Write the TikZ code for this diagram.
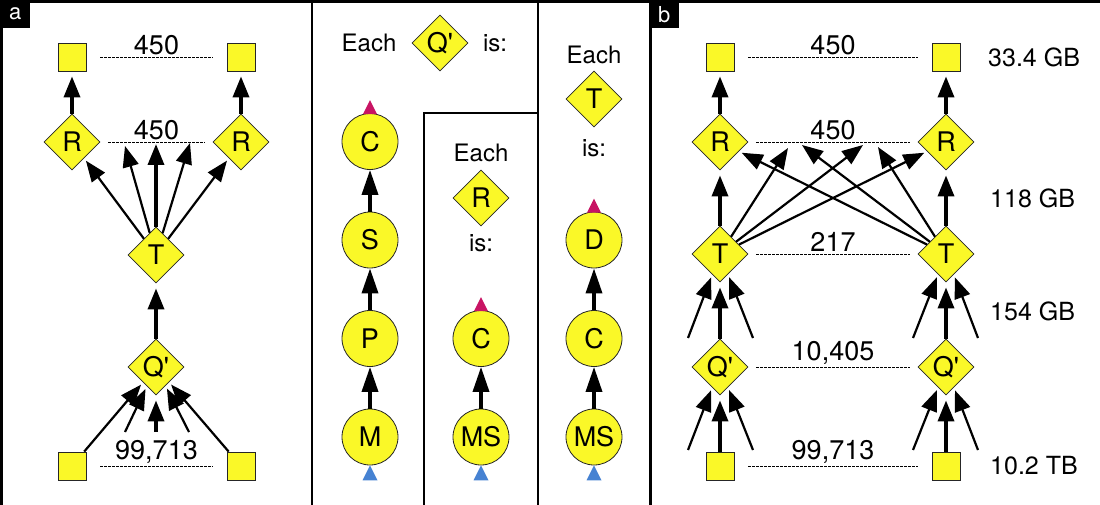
\documentclass[tikz,border=0pt]{standalone}
\usepackage{fontspec}
\setmainfont{TeX Gyre Heros}
\usetikzlibrary{shapes.geometric, arrows.meta}
\usetikzlibrary{positioning, shapes}
\definecolor{cellyellow}{RGB}{250,248,40}
\definecolor{tipmagenta}{RGB}{200,20,100}
\definecolor{tipblue}{RGB}{70,130,210}
\newcommand{\qp}{Q\textquotesingle}
\tikzstyle{sq} = [rectangle, minimum size=28pt, inner sep=0pt, fill=cellyellow, draw=black!85, line width=0.8pt]
\tikzstyle{dia} = [diamond, minimum width=56pt, minimum height=56pt, inner sep=0pt, fill=cellyellow, draw=black!85, line width=0.8pt, font=\fontsize{27}{30}\selectfont]
\tikzstyle{ball} = [circle, minimum size=56pt, inner sep=0pt, fill=cellyellow, draw=black!85, line width=0.8pt, font=\fontsize{27}{30}\selectfont]
\tikzstyle{txt} = [font=\fontsize{24}{28}\selectfont, inner sep=0pt]
\tikzstyle{sizelabel} = [font=\fontsize{25}{28}\selectfont, inner sep=0pt, anchor=west]
\tikzstyle{tally} = [font=\fontsize{27}{30}\selectfont, above, inner sep=2pt]
\tikzstyle{rowline} = [line width=0.7pt, dash pattern=on 3pt off 1pt]
\tikzstyle{feed} = [line width=2.2pt, -{Triangle[length=21pt,width=16pt]}, shorten >=3pt]
\tikzstyle{bigfeed} = [line width=3.5pt, -{Triangle[length=21pt,width=16pt]}, shorten >=5pt]
\tikzstyle{rise} = [line width=3.5pt, -{Triangle[length=25pt,width=16pt]}]
\tikzstyle{paneltag} = [fill=black, text=white, anchor=north west, minimum width=30pt, minimum height=28pt, inner sep=0pt, font=\fontsize{22}{24}\selectfont]

\begin{document}
\begin{tikzpicture}[x=1pt, y=-1pt, node distance=98.5pt]
  \useasboundingbox (0,0) rectangle (1100,505);
  % frame
  \draw [line width=3pt] (0,1.5) -- (1100,1.5);
  \draw [line width=3pt] (1.5,0) -- (1.5,505);
  \draw [line width=2pt] (312,0) -- (312,505);
  \draw [line width=1.5pt] (538,0) -- (538,505);
  \draw [line width=1.5pt] (424,505) -- (424,113) -- (538,113);
  \draw [line width=3pt] (650,0) -- (650,505);
  \node (taga) [paneltag] at (0,0) {a};
  \node (tagb) [paneltag] at (649,0) {b};

  % panel a
  \node (qa) [dia] at (156,367) {\qp};
  \node (ta) [dia, above of=qa, node distance=112pt] {T};
  \node (ra1) [dia, above of=ta, node distance=113pt, xshift=-84pt] {R};
  \node (ra2) [dia, above of=ta, node distance=113pt, xshift=85pt] {R};
  \node (sqa1) [sq, above of=ra1, node distance=85pt] {};
  \node (sqa2) [sq, above of=ra2, node distance=85pt] {};
  \node (sqa3) [sq, below of=qa, node distance=99pt, xshift=-84pt] {};
  \node (sqa4) [sq, below of=qa, node distance=99pt, xshift=85pt] {};
  \coordinate (fa1) at (125,146);
  \coordinate (fa2) at (156,144);
  \coordinate (fa3) at (190,143);
  \coordinate (ga1) at (125,432);
  \coordinate (ga2) at (156,432);
  \coordinate (ga3) at (189,432);
  \draw [bigfeed] (ra1) -- (sqa1);
  \draw [bigfeed] (ra2) -- (sqa2);
  \draw [feed] (ta) -- (ra1);
  \draw [feed, shorten >=0pt] (ta) -- (fa1);
  \draw [bigfeed, shorten >=0pt] (ta) -- (fa2);
  \draw [feed, shorten >=0pt] (ta) -- (fa3);
  \draw [feed] (ta) -- (ra2);
  \draw [bigfeed] (qa) -- (ta);
  \draw [feed] (sqa3) -- (qa);
  \draw [feed] (ga1) -- (qa);
  \draw [bigfeed] (ga2) -- (qa);
  \draw [feed] (ga3) -- (qa);
  \draw [feed] (sqa4) -- (qa);
  \draw [rowline] ([xshift=14pt]sqa1.east) -- node (na1) [tally] {450} ([xshift=-14pt]sqa2.west);
  \draw [rowline] ([xshift=8pt]ra1.east) -- node (na2) [tally] {450} ([xshift=-8pt]ra2.west);
  \draw [rowline] ([xshift=14pt]sqa3.east) -- node (na3) [tally] {99,713} ([xshift=-14pt]sqa4.west);

  % middle: Q'
  \node (eq) [dia] at (440,43) {\qp};
  \node (eachq) [txt, left of=eq, node distance=71pt] {Each};
  \node (isq) [txt, right of=eq, node distance=55pt] {is:};
  \node (cm) [ball] at (370,437) {M};
  \node (cp) [ball, above of=cm] {P};
  \node (cs) [ball, above of=cp] {S};
  \node (cc) [ball, above of=cs] {C};
  \draw [rise] (cm) -- (cp);
  \draw [rise] (cp) -- (cs);
  \draw [rise] (cs) -- (cc);
  \fill [tipmagenta] (cc.north) ++(-7pt,-1pt) -- ++(14pt,0pt) -- ++(-7pt,14pt) -- cycle;
  \fill [tipblue] (cm.south) -- ++(7.5pt,-15pt) -- ++(-15pt,0pt) -- cycle;

  % middle: R
  \node (er) [dia] at (481,198) {R};
  \node (eachr) [txt, above of=er, node distance=45pt] {Each};
  \node (isr) [txt, below of=er, node distance=45pt] {is:};
  \node (rms) [ball] at (481,437) {MS};
  \node (rc) [ball, above of=rms] {C};
  \draw [rise] (rms) -- (rc);
  \fill [tipmagenta] (rc.north) ++(-7pt,-1pt) -- ++(14pt,0pt) -- ++(-7pt,14pt) -- cycle;
  \fill [tipblue] (rms.south) -- ++(7.5pt,-15pt) -- ++(-15pt,0pt) -- cycle;

  % middle: T
  \node (et) [dia] at (594,99) {T};
  \node (eacht) [txt, above of=et, node distance=44pt] {Each};
  \node (ist) [txt, below of=et, node distance=49pt] {is:};
  \node (tms) [ball] at (594,437) {MS};
  \node (tc) [ball, above of=tms] {C};
  \node (td) [ball, above of=tc] {D};
  \draw [rise] (tms) -- (tc);
  \draw [rise] (tc) -- (td);
  \fill [tipmagenta] (td.north) ++(-7pt,-1pt) -- ++(14pt,0pt) -- ++(-7pt,14pt) -- cycle;
  \fill [tipblue] (tms.south) -- ++(7.5pt,-15pt) -- ++(-15pt,0pt) -- cycle;

  % panel b
  \node (qb1) [dia] at (720,367) {\qp};
  \node (qb2) [dia, right of=qb1, node distance=226pt] {\qp};
  \node (tb1) [dia, above of=qb1, node distance=113pt] {T};
  \node (tb2) [dia, above of=qb2, node distance=113pt] {T};
  \node (rb1) [dia, above of=tb1, node distance=112pt] {R};
  \node (rb2) [dia, above of=tb2, node distance=112pt] {R};
  \node (sqb1) [sq, above of=rb1, node distance=85pt] {};
  \node (sqb2) [sq, above of=rb2, node distance=85pt] {};
  \node (sqb3) [sq, below of=qb1, node distance=99pt] {};
  \node (sqb4) [sq, below of=qb2, node distance=99pt] {};
  \coordinate (fb1) at (788,148);
  \coordinate (fb2) at (863,145);
  \coordinate (fb3) at (802,145);
  \coordinate (fb4) at (878,147);
  \coordinate (hb1) at (688,338);
  \coordinate (hb2) at (753,338);
  \coordinate (hb3) at (913,338);
  \coordinate (hb4) at (978,338);
  \coordinate (kb1) at (688,450);
  \coordinate (kb2) at (753,450);
  \coordinate (kb3) at (913,450);
  \coordinate (kb4) at (978,450);
  \draw [bigfeed] (rb1) -- (sqb1);
  \draw [bigfeed] (rb2) -- (sqb2);
  \draw [bigfeed] (tb1) -- (rb1);
  \draw [bigfeed] (tb2) -- (rb2);
  \draw [feed, shorten >=0pt] (tb1) -- (fb1);
  \draw [feed, shorten >=0pt] (tb1) -- (fb2);
  \draw [feed] (tb1) -- (rb2);
  \draw [feed, shorten >=0pt] (tb2) -- (fb3);
  \draw [feed, shorten >=0pt] (tb2) -- (fb4);
  \draw [feed] (tb2) -- (rb1);
  \draw [bigfeed] (qb1) -- (tb1);
  \draw [bigfeed] (qb2) -- (tb2);
  \draw [feed] (hb1) -- (tb1);
  \draw [feed] (hb2) -- (tb1);
  \draw [feed] (hb3) -- (tb2);
  \draw [feed] (hb4) -- (tb2);
  \draw [bigfeed] (sqb3) -- (qb1);
  \draw [bigfeed] (sqb4) -- (qb2);
  \draw [feed] (kb1) -- (qb1);
  \draw [feed] (kb2) -- (qb1);
  \draw [feed] (kb3) -- (qb2);
  \draw [feed] (kb4) -- (qb2);
  \draw [rowline] ([xshift=14pt]sqb1.east) -- node (nb1) [tally] {450} ([xshift=-14pt]sqb2.west);
  \draw [rowline] ([xshift=8pt]rb1.east) -- node (nb2) [tally] {450} ([xshift=-8pt]rb2.west);
  \draw [rowline] ([xshift=8pt]tb1.east) -- node (nb3) [tally] {217} ([xshift=-8pt]tb2.west);
  \draw [rowline] ([xshift=8pt]qb1.east) -- node (nb4) [tally] {10,405} ([xshift=-8pt]qb2.west);
  \draw [rowline] ([xshift=14pt]sqb3.east) -- node (nb5) [tally] {99,713} ([xshift=-14pt]sqb4.west);
  \node (gb1) [sizelabel] at (988,57) {33.4 GB};
  \node (gb2) [sizelabel] at (990,198) {118 GB};
  \node (gb3) [sizelabel] at (990,311) {154 GB};
  \node (gb4) [sizelabel] at (990,466) {10.2 TB};
\end{tikzpicture}
\end{document}
